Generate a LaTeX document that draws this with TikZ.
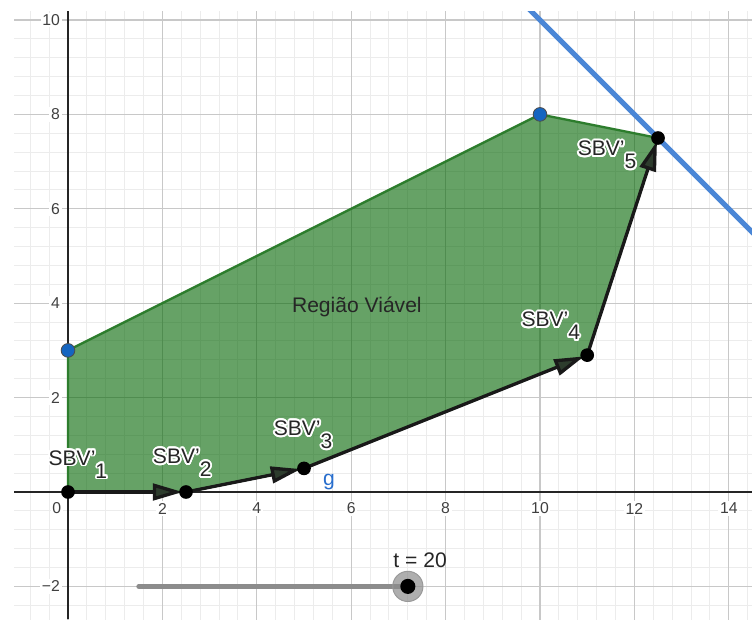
\documentclass[tikz,border=0pt]{standalone}
\usepackage{fontspec}
\setmainfont{Liberation Sans}
\usepackage[copies]{contour}
\contourlength{1.1pt}
\usetikzlibrary{arrows.meta}

\definecolor{gridminor}{RGB}{236,236,236}
\definecolor{gridmajor}{RGB}{200,200,200}
\definecolor{axiscol}{RGB}{37,37,37}
\definecolor{regionfill}{RGB}{0,100,0}
\definecolor{regionedge}{RGB}{45,125,45}
\definecolor{ggblue}{RGB}{21,101,192}
\definecolor{linblue}{RGB}{74,134,214}
\definecolor{gtext}{RGB}{40,110,205}
\definecolor{slidergray}{RGB}{140,140,140}
\definecolor{tipcol}{RGB}{45,60,45}

\newcommand{\sbvlab}[1]{\contour{white}{SBV'\raisebox{-0.62em}{#1}}}

\tikzset{
  numlab/.style={font=\fontsize{9.5}{11}\selectfont, text=black!75, fill=white, inner sep=1pt},
  ptlabel/.style={font=\fontsize{12.7}{14}\selectfont, text=black!85, inner sep=0pt},
  blackpt/.style={circle, fill=black, inner sep=0pt, minimum size=0.29cm},
  bluept/.style={circle, fill=ggblue, draw=black!70, line width=0.5pt, inner sep=0pt, minimum size=0.29cm},
  vec/.style={draw=black!90, line width=2pt,
    -{Triangle[length=18pt,width=10pt,fill=tipcol]}, shorten >=2pt}
}

\begin{document}
\begin{tikzpicture}[x=1cm,y=1cm]
\useasboundingbox (-1.4407,-2.6907) rectangle (14.4915,10.4237);
\fill[white] (-1.4407,-2.6907) rectangle (14.4915,10.4237);

% grid
\begin{scope}
\clip (-1.144,-2.6907) rectangle (14.4915,10.19);
\draw[gridminor, line width=0.6pt] (-1.2,-2.8) grid[step=0.4] (14.8,10.4);
\draw[gridmajor, line width=0.8pt] (-2,-4) grid[step=2] (16,12);
\end{scope}

% axes
\draw[axiscol, line width=0.9pt] (-1.144,0) -- (14.4915,0);
\draw[axiscol, line width=0.9pt] (0,-2.6907) -- (0,10.19);

% axis numbers
\node[numlab] (n0) at (-0.24,-0.35) {0};
\foreach \v in {2,4,6,8,10,12,14} {
  \node[numlab] (nx\v) at (\v,-0.35) {\v};
}
\foreach \v in {2,4,6,8,10} {
  \node[numlab, anchor=east] (ny\v) at (-0.13,\v) {\v};
}
\node[numlab, anchor=east] (nym2) at (-0.13,-2) {−2};

% points
\coordinate (S1) at (0,0);
\coordinate (S2) at (2.5,0);
\coordinate (S3) at (5,0.5);
\coordinate (S4) at (11,2.9);
\coordinate (S5) at (12.5,7.5);
\coordinate (B1) at (10,8);
\coordinate (B2) at (0,3);

% feasible region
\fill[regionfill, fill opacity=0.6] (S1) -- (S2) -- (S3) -- (S4) -- (S5) -- (B1) -- (B2) -- cycle;
\draw[regionedge, line width=1.4pt, line join=round] (S1) -- (S2) -- (S3) -- (S4) -- (S5) -- (B1) -- (B2) -- cycle;

% line g: x + y = 20
\begin{scope}
\clip (-1.144,-2.6907) rectangle (14.4915,10.19);
\coordinate (G1) at (9.7,10.3);
\coordinate (G2) at (14.6,5.4);
\draw[linblue, line width=3pt] (G1) -- (G2);
\end{scope}

% vectors
\draw[vec] (S1) -- (S2);
\draw[vec] (S2) -- (S3);
\draw[vec] (S3) -- (S4);
\draw[vec] (S4) -- (S5);

% point markers
\node[blackpt] (P1) at (S1) {};
\node[blackpt] (P2) at (S2) {};
\node[blackpt] (P3) at (S3) {};
\node[blackpt] (P4) at (S4) {};
\node[blackpt] (P5) at (S5) {};
\node[bluept] (Q1) at (B1) {};
\node[bluept] (Q2) at (B2) {};

% labels
\node[ptlabel] (L1) at (0.21,0.57) {\sbvlab{1}};
\node[ptlabel] (L2) at (2.42,0.60) {\sbvlab{2}};
\node[ptlabel] (L3) at (4.98,1.19) {\sbvlab{3}};
\node[ptlabel] (L4) at (10.23,3.50) {\sbvlab{4}};
\node[ptlabel] (L5) at (11.42,7.12) {\sbvlab{5}};

\node[ptlabel, text=black!85] (reg) at (6.12,3.92) {Região Viável};
\node[ptlabel, text=gtext] (glab) at (5.53,0.22) {g};

% slider
\coordinate (T0) at (1.5,-2);
\coordinate (T1) at (7.2,-2);
\draw[slidergray, line width=3pt, line cap=round] (T0) -- (T1);
\node[circle, fill=black!45, fill opacity=0.7, draw=black!40, line width=0.6pt, inner sep=0pt, minimum size=0.64cm] (knob) at (T1) {};
\node[blackpt, minimum size=0.32cm] (knobc) at (T1) {};
\node[ptlabel] (tlab) at (7.46,-1.44) {t = 20};
\end{tikzpicture}
\end{document}
